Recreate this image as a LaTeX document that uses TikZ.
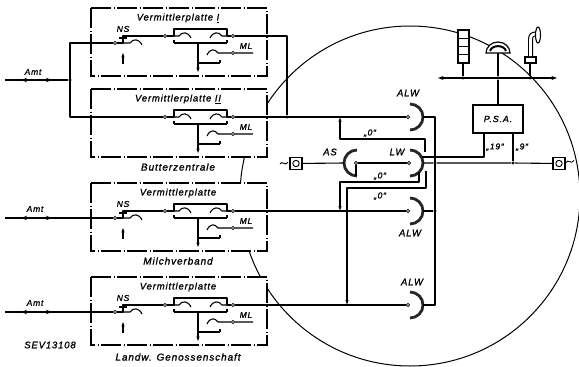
\documentclass[tikz,border=0pt]{standalone}
\usepackage{fontspec}
\setmainfont{Liberation Sans}
\newfontfamily\labfont[LetterSpace=9, FakeBold=1.2]{Liberation Sans}
\usetikzlibrary{arrows.meta,decorations.markings}
\tikzset{
  wire/.style={line width=1.1pt, line join=round},
  vframe/.style={line width=1.1pt, dash pattern=on 20pt off 2.5pt on 1pt off 2.5pt, fill=white},
  tcirc/.style={circle, draw, fill=white, inner sep=0pt, minimum size=3.4pt, line width=0.7pt},
  jdot/.style={circle, fill, inner sep=0pt, minimum size=3.4pt},
  ctick/.style={line width=2pt},
  vlbl/.style={font=\labfont\itshape\fontsize{9.5}{10}\selectfont, inner sep=0pt},
  blbl/.style={font=\labfont\itshape\fontsize{10}{11}\selectfont, inner sep=0pt},
  slbl/.style={font=\labfont\itshape\fontsize{8.5}{9}\selectfont, inner sep=0pt},
  jlbl/.style={font=\labfont\itshape\fontsize{9.5}{10}\selectfont, inner sep=0pt},
  jackarc/.style={line width=2.8pt, black!85},
  endtip/.style={-{Stealth[length=4.5pt,width=3.2pt]}},
  amtarrows/.style={postaction={decorate}, decoration={markings,
     mark=at position 16pt with {\arrowreversed{Stealth[length=6pt,width=4.4pt]}},
     mark=at position 47pt with {\arrow{Stealth[length=6pt,width=4.4pt]}}}},
  tbox/.style={draw, line width=1.2pt, minimum size=12pt, inner sep=0pt, fill=white},
}
\newcommand\vplatte[4]{%
\begin{scope}[shift={(0,#2)}]
\draw[vframe] (91,0) rectangle (267,68);
\node[vlbl] at (178,10) {#3};
\node[tcirc] (#1ci) at (165,28) {};
\node[tcirc] (#1co) at (233,28) {};
\coordinate (#1bl) at (174,28);
\coordinate (#1br) at (227,28);
\draw[wire] (#1ci) -- (#1bl) -- (174,21) -- (227,21) -- (#1br) -- (#1co);
\draw[wire] (#1bl) -- (179,28) .. controls (182,23.5) and (188,23.5) .. (191,30);
\draw[wire] (#1br) -- (222,28) .. controls (219,23.5) and (213,23.5) .. (210,30);
\draw[wire] (174,35) -- (227,35);
\draw[ctick] (174,35) -- (174,32);
\draw[ctick] (227,35) -- (227,32);
\coordinate (#1m) at (198,35);
\coordinate (#1a) at (198,64);
\draw[wire,endtip] (#1m) -- (#1a);
\draw[wire] (198,55) -- (220,55);
\draw[ctick] (220,55) -- (220,52);
\node[tcirc] (#1ml) at (233,45) {};
\coordinate (#1mr) at (253,45);
\draw[wire] (#1mr) -- (#1ml) -- (218,45) .. controls (215,40.5) and (210,40.5) .. (207,47);
\node[slbl] at (246,38) {ML};
\ifnum#4=1
 \node[tcirc] (#1ns) at (115,35) {};
 \draw[wire] (#1ns) -- (123,35) -- (123,28) -- (#1ci);
 \draw[ctick] (119,29.6) -- (127,29.6);
 \draw[wire] (123,35) -- (130,35) .. controls (133,30.5) and (139,30.5) .. (142,37);
 \draw[wire,endtip] (123,56) -- (123,45);
 \node[slbl] at (123,21) {NS};
\fi
\end{scope}}
\begin{document}
\begin{tikzpicture}[x=1pt,y=-1pt]
\useasboundingbox (0,0) rectangle (579,367);
% big circle
\draw[line width=1pt] (410,196) circle[radius=170pt];
% boxes
\vplatte{a}{8}{Vermittlerplatte \underline{I}}{1}
\vplatte{b}{89}{Vermittlerplatte \underline{II}}{0}
\vplatte{c}{183}{Vermittlerplatte}{1}
\vplatte{d}{277}{Vermittlerplatte}{1}
\node[blbl] at (178,167) {Butterzentrale};
\node[blbl] at (178,261) {Milchverband};
\node[blbl] at (178,357) {Landw. Genossenschaft};
\node[jlbl] at (50,345) {SEV13108};
% Amt lines
\node[jdot] (j1) at (70,80) {};
\coordinate (amt1) at (5,80);
\draw[wire,amtarrows] (amt1) -- (j1);
\draw[wire] (ans) -- (70,43) -- (70,117) -- (bci);
\coordinate (amt3) at (5,218);
\draw[wire,amtarrows] (amt3) -- (cns);
\coordinate (amt4) at (5,312);
\draw[wire,amtarrows] (amt4) -- (dns);
\node[slbl] at (33,72) {Amt};
\node[slbl] at (35,209) {Amt};
\node[slbl] at (35,303) {Amt};
% outgoing lines
\node[jdot] (j2) at (287,117) {};
\draw[wire] (aco) -- (287,36) -- (j2);
\node[tcirc] (alw1) at (408,117) {};
\node[tcirc] (alw2) at (408,211) {};
\node[tcirc] (alw3) at (408,305) {};
\draw[wire] (bco) -- (alw1);
\draw[wire] (cco) -- (alw2);
\draw[wire] (dco) -- (alw3);
% jacks
\foreach \yy in {117,163,211,305}
  \draw[jackarc] (410,\yy-13) arc[start angle=90,end angle=-90,radius=13pt];
\draw[jackarc] (357,150) arc[start angle=90,end angle=270,radius=13pt];
\node[jlbl] at (408,93) {ALW};
\node[jlbl] at (410,233) {ALW};
\node[jlbl] at (412,282) {ALW};
\node[jlbl] at (397,152) {LW};
\node[jlbl] at (330,152) {AS};
% sleeve bus
\node[jdot] (s2) at (435,163) {};
\node[jdot] (s3) at (435,211) {};
\draw[wire] (423,117) -- (435,117) -- (435,305) -- (423,305);
\draw[wire] (423,211) -- (s3);
% AS and LW
\node[tcirc] (asj) at (356,163) {};
\node[tcirc] (lw) at (409,163) {};
\node[tbox] (tl) at (296,163.5) {};
\draw[line width=0.9pt] (tl.center) circle[radius=3.2pt];
\draw[line width=0.9pt] (280,164) .. controls (282,160) and (285,166.5) .. (288,162.5);
\draw[wire] (tl) -- (344,163);
\draw[wire] (asj) -- (lw);
\draw[wire] (asj) -- (356,176);
\node[jdot] (t9) at (513,163) {};
\node[tbox] (tr) at (559,163.5) {};
\draw[line width=0.9pt] (tr.center) circle[radius=3.2pt];
\draw[line width=0.9pt] (566,162.5) .. controls (568,158.5) and (571,165) .. (574,160.5);
\draw[wire] (423,163) -- (s2) -- (t9) -- (tr);
% PSA
\node[draw, line width=1.2pt, minimum width=50pt, minimum height=28pt, inner sep=0pt,
      font=\labfont\itshape\fontsize{9}{10}\selectfont] (psa) at (498,119) {P.S.A.};
\coordinate (p19) at (484,133);
\coordinate (p9) at (513,133);
\draw[wire] (422,157) -- (484,157) -- (p19);
\draw[wire] (t9) -- (p9);
\node[slbl] at (495,147) {„19“};
\node[slbl] at (522,147) {„9“};
% .0 loops
\draw[wire,endtip] (425,152) -- (425,139) -- (340,139) -- (340,117.5);
\draw[wire,endtip] (419,172) -- (419,182) -- (340,182) -- (340,210.5);
\draw[wire,endtip] (426,171) -- (426,188) -- (347,188) -- (347,304.5);
\node[slbl] at (370,133) {„0“};
\node[slbl] at (380,176) {„0“};
\node[slbl] at (380,196) {„0“};
% signal line
\coordinate (hl) at (438,78);
\coordinate (hr) at (557,78);
\draw[wire,{Stealth[length=5.5pt,width=4pt]}-{Stealth[length=5.5pt,width=4pt]}] (hl) -- (hr);
\node[jdot] (d1) at (463,78) {};
\node[jdot] (d2) at (498,78) {};
\node[jdot] (d3) at (530,78) {};
\draw[wire] (psa) -- (d2);
\draw[wire] (d2) -- (498,53);
\draw[wire] (d1) -- (463,63);
\draw[wire] (d3) -- (530,63);
% lamp column
\draw[line width=1.1pt, fill=white] (458,30) rectangle (469,63);
\foreach \yy in {38.25,46.5,54.75} \draw[line width=1.1pt] (458,\yy) -- (469,\yy);
% bell
\draw[line width=1.2pt, fill=white] (486,53) arc[start angle=180,end angle=0,x radius=12pt,y radius=11pt] -- cycle;
\draw[line width=2pt] (490,51) .. controls (492,44.5) and (504,44.5) .. (506,51);
% horn
\draw[line width=1.1pt, fill=white] (525,57) rectangle (536,63);
\draw[line width=5pt] (530.5,57) -- (530.5,40) .. controls (530.5,35) and (532.5,34) .. (536,34);
\draw[line width=2.8pt, white] (530.5,56) -- (530.5,40) .. controls (530.5,35) and (532.5,34) .. (536.5,34);
\draw[line width=1.1pt, fill=white] (538,35) ellipse[x radius=2.5pt, y radius=8pt];
\end{tikzpicture}
\end{document}
